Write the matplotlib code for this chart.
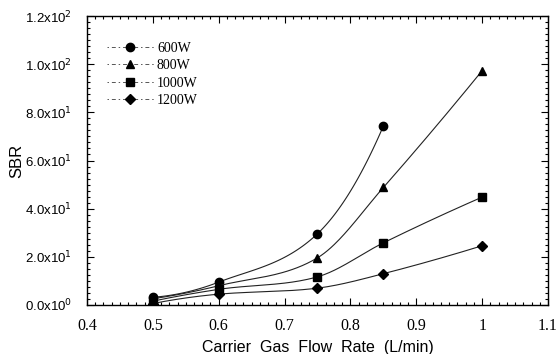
import matplotlib
matplotlib.use("Agg")
import matplotlib.pyplot as plt
import numpy as np
from matplotlib.lines import Line2D
from matplotlib.ticker import MultipleLocator, FixedLocator, FixedFormatter

# data
flow_600 = [0.5, 0.6, 0.75, 0.85]
sbr_600 = [3.2, 9.5, 29.6, 74.3]
flow_800 = [0.5, 0.6, 0.75, 0.85, 1.0]
sbr_800 = [2.6, 8.0, 19.6, 48.8, 97.3]
flow_1000 = [0.5, 0.6, 0.75, 0.85, 1.0]
sbr_1000 = [1.6, 6.5, 11.7, 25.8, 44.8]
flow_1200 = [0.5, 0.6, 0.75, 0.85, 1.0]
sbr_1200 = [0.6, 4.5, 7.0, 13.0, 24.6]
labels = ["600W", "800W", "1000W", "1200W"]
markers = ["o", "^", "s", "D"]

ytick_vals = [0, 20, 40, 60, 80, 100, 120]
ytick_text = [r"0.0x10$^0$", r"2.0x10$^1$", r"4.0x10$^1$", r"6.0x10$^1$",
              r"8.0x10$^1$", r"1.0x10$^2$", r"1.2x10$^2$"]
xtick_vals = [0.4, 0.5, 0.6, 0.7, 0.8, 0.9, 1.0, 1.1]
xtick_text = ["0.4", "0.5", "0.6", "0.7", "0.8", "0.9", "1", "1.1"]


def smooth(x, y, n=40):
    # cubic Hermite curve through the measured points (drawing only)
    x = np.asarray(x, float)
    y = np.asarray(y, float)
    h = np.diff(x)
    d = np.diff(y) / h
    m = np.zeros_like(y)
    for i in range(1, len(x) - 1):
        if d[i] >= d[i - 1]:
            m[i] = (y[i + 1] - y[i - 1]) / (x[i + 1] - x[i - 1])
        else:
            w1 = 2 * h[i] + h[i - 1]
            w2 = h[i] + 2 * h[i - 1]
            m[i] = (w1 + w2) / (w1 / d[i - 1] + w2 / d[i])
    m[0] = max(2 * d[0] - m[1], 0.3 * d[0])
    m[-1] = 2 * d[-1] - m[-2]
    xs, ys = [], []
    for i in range(len(x) - 1):
        t = np.linspace(0, 1, n)
        h00 = 2 * t ** 3 - 3 * t ** 2 + 1
        h10 = t ** 3 - 2 * t ** 2 + t
        h01 = -2 * t ** 3 + 3 * t ** 2
        h11 = t ** 3 - t ** 2
        xs.extend(x[i] + t * h[i])
        ys.extend(h00 * y[i] + h10 * h[i] * m[i] + h01 * y[i + 1]
                  + h11 * h[i] * m[i + 1])
    return xs, ys


fig = plt.figure(figsize=(5.58, 3.54), dpi=100)
ax = fig.add_axes([87 / 558, 1 - 305 / 354, 461 / 558, 289 / 354])

series = [(flow_600, sbr_600), (flow_800, sbr_800),
          (flow_1000, sbr_1000), (flow_1200, sbr_1200)]
handles = []
for (fx, fy), lab, mk in zip(series, labels, markers):
    sx, sy = smooth(fx, fy)
    ax.plot(sx, sy, color="#222", lw=0.8)
    ms = 5 if mk == "D" else 6
    ax.plot(fx, fy, linestyle="none", marker=mk, color="black", ms=ms)
    handles.append(Line2D([], [], color="#555", lw=0.7, ls=(0, (1.5, 3, 4, 3)),
                          marker=mk, ms=ms, markerfacecolor="black",
                          markeredgecolor="black"))

ax.set_xlim(0.4, 1.1)
ax.set_ylim(0, 120)
ax.xaxis.set_major_locator(FixedLocator(xtick_vals))
ax.xaxis.set_major_formatter(FixedFormatter(xtick_text))
ax.xaxis.set_minor_locator(MultipleLocator(0.0125))
ax.yaxis.set_major_locator(FixedLocator(ytick_vals))
ax.yaxis.set_major_formatter(FixedFormatter(ytick_text))
ax.yaxis.set_minor_locator(MultipleLocator(2.5))
ax.tick_params(which="both", direction="in", top=True, right=True, width=0.8)
ax.tick_params(which="major", length=5)
ax.tick_params(which="minor", length=2.5)
ax.tick_params(axis="x", which="major", pad=9, labelsize=11.5,
               labelfontfamily="Liberation Serif")
ax.tick_params(axis="y", which="major", pad=11, labelsize=9.5,
               labelfontfamily="Liberation Sans")
for sp in ax.spines.values():
    sp.set_linewidth(1.0)

ax.set_xlabel("Carrier  Gas  Flow  Rate  (L/min)", fontfamily="Liberation Sans",
              fontsize=11.5, labelpad=5)
ax.set_ylabel("SBR", fontfamily="Liberation Sans", fontsize=12, labelpad=0)

ax.legend(handles, labels, loc="upper left", bbox_to_anchor=(0.016, 0.955),
          frameon=False, handlelength=3.4, handletextpad=0.2, labelspacing=0.33,
          prop={"family": "Liberation Serif", "size": 10})

fig.savefig("out.png", dpi=100)
